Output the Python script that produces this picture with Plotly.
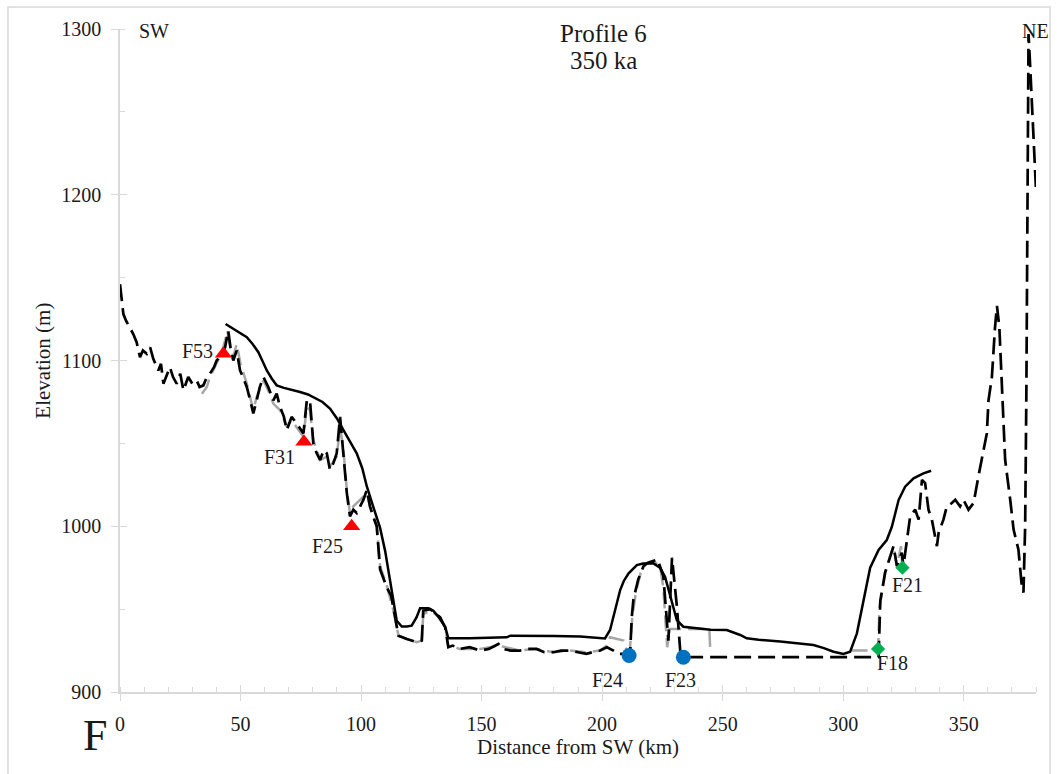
import plotly.graph_objects as go

# Profile 6 (350 ka): distance from SW (km) and elevation (m)

# Dashed black profile
dashed_km = [
    0, 1.4, 2.5, 4.1, 5.5, 6.9, 8.3, 9.5, 11.1, 12.5, 13.8, 15.9, 17, 18, 19.5,
    20.7, 22, 23.5, 25, 26.3, 28.3, 30, 31.8, 33, 34.6, 36, 37.3, 39, 40.1, 42,
    43.6, 44.9, 46, 47, 48.4, 49.8, 51, 52.6, 54, 55.3, 56.7, 58, 59.5, 61.5,
    63.6, 65, 66.4, 68, 69.2, 71.2, 73.3, 76.1, 77.5, 78.8, 80.2, 81.6, 83,
    84.5, 85.8, 87.1, 88.5, 89.9, 91.3, 92.7, 94.1, 95.4, 96.8, 98.2, 99.5, 101,
    102.4, 103.7, 105, 106.5, 107.9, 109.5, 110.7, 112.5, 114, 115.5, 119,
    123.1, 125.2, 125.8, 128.6, 130.5, 132.8, 134.9, 136.2, 138, 141, 145,
    149.4, 153, 157, 158.9, 162, 165.9, 169, 172.8, 176, 179.7, 183, 186.6,
    190, 193.5, 196, 199.2, 202, 204.7, 206.5, 208.9, 211.6, 212.3, 213, 215,
    217.2, 219, 221.3, 223, 225.4, 226.5, 227.5, 229, 230, 231, 232.4, 233.7,
    314.7, 315.4, 317.4, 319.5, 320.9, 322.3, 324.3, 325, 326.4, 327.8, 329.9,
    331.3, 332.7, 334, 335.4, 336.8, 338.9, 339.6, 341.6, 343, 345.1, 346.5,
    348.5, 349.9, 352, 354.1, 356.1, 358.2, 359.6, 360.3, 361.7, 363, 363.8,
    364.8, 365.8, 367.2, 369.3, 370.7, 372.7, 374.1, 374.8, 375.5, 376, 376.4,
    376.9, 377.5, 378.5, 379.5, 380,
]
dashed_elev = [
    1146, 1128, 1124, 1120, 1116, 1111, 1102, 1106, 1104, 1108, 1101, 1094,
    1098, 1086, 1092, 1096, 1090, 1086, 1092, 1082, 1090, 1086, 1088, 1084,
    1085, 1090, 1092, 1096, 1100, 1103, 1108, 1118, 1106, 1100, 1106, 1094,
    1090, 1084, 1076, 1068, 1076, 1084, 1090, 1084, 1076, 1080, 1072, 1066,
    1058, 1066, 1062, 1056, 1076, 1076, 1050, 1044, 1040, 1046, 1044, 1034,
    1038, 1044, 1066, 1044, 1020, 1006, 1010, 1008, 1012, 1016, 1022, 1012,
    1006, 1000, 974, 968, 963, 958, 945, 934, 932, 930, 931, 949, 950, 948,
    945, 939, 927, 928, 926, 927, 925, 926, 929, 926, 925, 925, 926, 926, 924,
    924, 925, 925, 924, 923, 924, 925, 927, 925, 923, 923, 923, 945, 956, 968,
    976, 978, 979, 980, 970, 952, 931, 981, 966, 952, 925, 921,
    921, 955, 972, 982, 988, 976, 984, 976, 992, 1006, 1010, 1004, 1028, 1026,
    1010, 1004, 988, 996, 1004, 1012, 1014, 1016, 1012, 1016, 1010, 1014,
    1030, 1046, 1056, 1076, 1090, 1120, 1133, 1120, 1085, 1040, 1016, 998, 986,
    964, 960, 1000, 1080, 1200, 1297, 1280, 1250, 1220, 1203,
]

# Grey dashed profile (None marks a break in the line)
grey_km = [
    34, 36, 37.3, 40.1, 42, 43.6, 44.5, 45.5, 47, 48.4, 50, 52.6, 55.3, 56.7,
    59.5, 61.5, 63.6, 66.4, 69.2, 71.2, 73.3, 76.1, 77.5, 78.8, 80.2, 81.6, 83,
    85.8, 87.1, 89.9, 91.3, 92.7, 94.1, 95.4, 96.8, 98.2, 99.5, 101, 102.4,
    103.7, 106.5, 107.9, 110.7, 114, 115.5, 119, 123.1, 125.2, 125.8, 128.6,
    132.8, 134.9, 136.2, 141, 149.4, 157, 165.9, 172.8, 179.7, 186.6, 193.5,
    199.2, 202, 203.3, 206, 208.9, 210.2, 211.5, 212.5, 214, 216, 218, 221.3,
    224, 225.4, 226.5, 227, 228, 236, 244.5, 244.8, None,
    303.5, 314.5, 315, 317.4, 319.5, 320.9, 322.3, 324, 324.6,
]
grey_elev = [
    1080, 1084, 1090, 1098, 1104, 1112, 1118, 1110, 1102, 1110, 1098, 1086,
    1070, 1078, 1088, 1082, 1074, 1070, 1060, 1064, 1060, 1054, 1072, 1070,
    1052, 1046, 1040, 1042, 1036, 1042, 1060, 1046, 1022, 1008, 1012, 1014,
    1016, 1018, 1020, 1012, 1000, 976, 964, 946, 934, 932, 930, 931, 947, 949,
    945, 939, 928, 926, 926, 928, 925, 926, 924, 925, 924, 925, 928, 933, 932,
    931, 925, 925, 945, 960, 972, 977, 979, 976, 963, 940, 927, 938, 938, 938,
    927, None,
    925, 925, 950, 972, 982, 988, 976, 988, 975,
]

# Solid black profile
solid_km = [
    43.8, 46, 49, 52.6, 55, 57.4, 59, 60.9, 63, 65, 68, 71, 74.7, 78, 80.2, 84,
    87.1, 90, 92.7, 95.5, 98.2, 100.5, 102.4, 105, 107.9, 110, 112, 113.5,
    114.8, 116.9, 119, 121, 123, 124.5, 128, 130, 132, 134.9, 136.2, 145, 155,
    160.4, 162, 170, 180, 190.9, 196, 201.2, 203.3, 205.5, 207.5, 209, 211,
    214.4, 217, 221.3, 224, 226.1, 227.5, 228.9, 231, 233.7, 239.3, 245, 251.7,
    257.3, 260, 265, 273.9, 280, 287.7, 292, 296, 300.1, 302.9, 305.7, 308.4,
    311.2, 314.7, 318.1, 320.2, 323, 325.7, 329.2, 333.3, 336.5,
]
solid_elev = [
    1122, 1120, 1117, 1114, 1110, 1105, 1100, 1094, 1089, 1085, 1083.5, 1082.5,
    1081, 1079.5, 1078, 1075, 1071, 1065, 1058, 1051, 1044, 1035, 1024, 1012,
    999, 985, 967, 955, 943, 939.5, 939.5, 940, 945, 950.5, 950.5, 949, 945.5,
    939.4, 932.4, 932.4, 932.6, 933, 934, 934, 933.8, 933.5, 933, 932.3, 937.4,
    950, 961.5, 967, 971.6, 976.6, 977.5, 977.6, 975, 969.6, 962, 953.5, 943.4,
    939.4, 938.4, 937.5, 937.4, 934.4, 932.4, 931.5, 930.4, 929.5, 928.4,
    926.5, 924.3, 923, 924.3, 935.4, 955.5, 975, 985.7, 991.7, 999.7, 1015.8,
    1023.9, 1028.9, 1031.9, 1033.5,
]

# Fault markers
red_names = ["F53", "F31", "F25"]
red_km = [42.9, 76.3, 96.1]
red_elev = [1104, 1051, 1000]

blue_names = ["F24", "F23"]
blue_km = [211.2, 233.7]
blue_elev = [922, 921]

green_names = ["F18", "F21"]
green_km = [314.5, 324.6]
green_elev = [926, 975]

# Label offsets (px) relative to each marker
label_shift = {
    "F53": (-26, 3), "F31": (-24, -15), "F25": (-24, -20),
    "F24": (-22, -24), "F23": (-3, -23),
    "F18": (14, -14), "F21": (5, -17),
}

SERIF = "Liberation Serif"
AXIS_GREY = "#d9d9d9"
TEXT = "#1a1a1a"

fig = go.Figure()

fig.add_trace(go.Scatter(
    x=grey_km, y=grey_elev, mode="lines", connectgaps=False,
    line=dict(color="#a6a6a6", width=2.5, dash="16px,7px"),
    hoverinfo="skip", showlegend=False,
))
fig.add_trace(go.Scatter(
    x=dashed_km, y=dashed_elev, mode="lines",
    line=dict(color="black", width=2.7, dash="17px,7px"),
    showlegend=False,
))
fig.add_trace(go.Scatter(
    x=solid_km, y=solid_elev, mode="lines",
    line=dict(color="black", width=2.5),
    showlegend=False,
))
fig.add_trace(go.Scatter(
    x=red_km, y=red_elev, mode="markers", text=red_names,
    marker=dict(symbol="triangle-up", size=15, color="#ff0000"),
    showlegend=False,
))
fig.add_trace(go.Scatter(
    x=blue_km, y=blue_elev, mode="markers", text=blue_names,
    marker=dict(symbol="circle", size=15, color="#0070c0"),
    showlegend=False,
))
fig.add_trace(go.Scatter(
    x=green_km, y=green_elev, mode="markers", text=green_names,
    marker=dict(symbol="diamond", size=11, color="#00b050"),
    showlegend=False,
))
# helper trace so the overlay axes (inner half of the major ticks) are drawn
fig.add_trace(go.Scatter(x=[None], y=[None], xaxis="x2", yaxis="y2",
                         mode="lines", showlegend=False, hoverinfo="skip"))

annotations = []
for names, xs, ys in ((red_names, red_km, red_elev),
                      (blue_names, blue_km, blue_elev),
                      (green_names, green_km, green_elev)):
    for n, xv, yv in zip(names, xs, ys):
        dx, dy = label_shift[n]
        annotations.append(dict(
            x=xv, y=yv, xref="x", yref="y", text=n, showarrow=False,
            xshift=dx, yshift=dy, font=dict(family=SERIF, size=20, color=TEXT),
        ))

annotations += [
    dict(x=200.5, y=1297.5, xref="x", yref="y", text="Profile 6", showarrow=False,
         font=dict(family=SERIF, size=25, color=TEXT)),
    dict(x=200.5, y=1281, xref="x", yref="y", text="350 ka", showarrow=False,
         font=dict(family=SERIF, size=25, color=TEXT)),
    dict(x=7, y=1299, xref="x", yref="y", text="SW", showarrow=False,
         xanchor="left", font=dict(family=SERIF, size=20, color=TEXT)),
    dict(x=373.3, y=1299, xref="x", yref="y", text="NE", showarrow=False,
         xanchor="left", font=dict(family=SERIF, size=20, color=TEXT)),
    dict(x=-0.043, y=-0.066, xref="paper", yref="paper", text="F", showarrow=False,
         yanchor="middle", font=dict(family=SERIF, size=44, color=TEXT)),
    dict(x=0.5, y=-0.083, xref="paper", yref="paper", text="Distance from SW (km)",
         showarrow=False, yanchor="middle",
         font=dict(family=SERIF, size=21, color=TEXT)),
    dict(x=-0.085, y=0.5, xref="paper", yref="paper", text="Elevation (m)",
         showarrow=False, textangle=-90, xanchor="center",
         font=dict(family=SERIF, size=21, color=TEXT)),
]

axis_common = dict(
    showgrid=False, zeroline=False, showline=True, linecolor=AXIS_GREY,
    linewidth=1.5, ticks="outside", ticklen=7, tickwidth=1.3, tickcolor=AXIS_GREY,
    tickfont=dict(family=SERIF, size=20, color=TEXT),
)

fig.update_layout(
    width=1059, height=774,
    margin=dict(l=120, r=23, t=29, b=82),
    paper_bgcolor="white", plot_bgcolor="white",
    xaxis=dict(range=[0, 380], tick0=0, dtick=50, ticklabelstandoff=6,
               minor=dict(ticks="inside", dtick=10, ticklen=5, tickwidth=1.3,
                          tickcolor=AXIS_GREY, showgrid=False),
               **axis_common),
    yaxis=dict(range=[900, 1300], tick0=900, dtick=100, ticklabelstandoff=6,
               minor=dict(ticks="inside", dtick=50, ticklen=5, tickwidth=1.3,
                          tickcolor=AXIS_GREY, showgrid=False),
               **axis_common),
    xaxis2=dict(range=[0, 380], overlaying="x", anchor="y", side="bottom",
                tick0=0, dtick=50, ticks="inside", ticklen=7, tickwidth=1.3,
                tickcolor=AXIS_GREY, showticklabels=False, showline=False,
                showgrid=False, zeroline=False),
    yaxis2=dict(range=[900, 1300], overlaying="y", anchor="x", side="left",
                tick0=900, dtick=100, ticks="inside", ticklen=7, tickwidth=1.3,
                tickcolor=AXIS_GREY, showticklabels=False, showline=False,
                showgrid=False, zeroline=False),
    annotations=annotations,
    shapes=[dict(type="rect", xref="paper", yref="paper",
                 x0=-0.1223, x1=1.0153, y0=-0.125, y1=1.0332,
                 line=dict(color=AXIS_GREY, width=1.5), layer="below")],
    showlegend=False,
)

fig.write_html("out.html")
